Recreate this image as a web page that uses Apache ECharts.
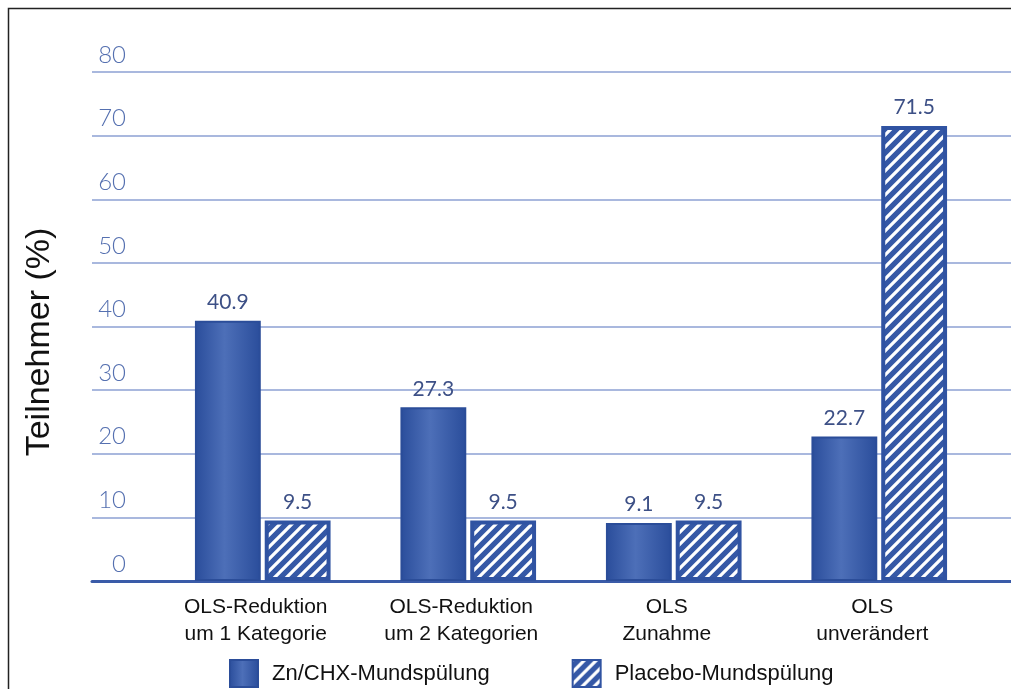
<!DOCTYPE html>
<html>
<head>
<meta charset="utf-8">
<script src="https://cdn.jsdelivr.net/npm/echarts@6/dist/echarts.min.js"></script>
<style>
  html, body { margin: 0; padding: 0; background: #ffffff; }
  #chart { width: 1011px; height: 689px; }
</style>
</head>
<body>
<div id="chart"></div>
<script>
// Categories (two-line x labels)
const categories = [
  'OLS-Reduktion\num 1 Kategorie',
  'OLS-Reduktion\num 2 Kategorien',
  'OLS\nZunahme',
  'OLS\nunverändert'
];
// Share of participants in percent
const znChxValues = [40.9, 27.3, 9.1, 22.7];
const placeboValues = [9.5, 9.5, 9.5, 71.5];
const seriesNames = ['Zn/CHX-Mundspülung', 'Placebo-Mundspülung'];
const yTicks = { min: 0, max: 80, step: 10 };
const yTitle = 'Teilnehmer (%)';

// Diagonal white stripes on blue for the placebo bars
function makeHatch() {
  const s = 12;
  const c = document.createElement('canvas');
  c.width = s; c.height = s;
  const g = c.getContext('2d');
  g.fillStyle = '#3558a6';
  g.fillRect(0, 0, s, s);
  g.strokeStyle = '#ffffff';
  g.lineWidth = 3.2;
  g.beginPath();
  g.moveTo(-2, s + 2); g.lineTo(s + 2, -2);
  g.moveTo(-2, 2); g.lineTo(2, -2);
  g.moveTo(s - 2, s + 2); g.lineTo(s + 2, s - 2);
  g.stroke();
  return c;
}

const solidFill = new echarts.graphic.LinearGradient(0, 0, 1, 0, [
  { offset: 0, color: '#2a4d9b' },
  { offset: 0.45, color: '#4d6fb8' },
  { offset: 1, color: '#2a4d9b' }
]);

const valueLabel = {
  show: true,
  position: 'top',
  distance: 8,
  color: '#3d5086',
  fontFamily: 'Lato',
  fontSize: 21,
  formatter: p => p.value.toFixed(1)
};

const chart = echarts.init(document.getElementById('chart'), null, { renderer: 'canvas' });

chart.setOption({
  backgroundColor: '#ffffff',
  animation: false,
  grid: [
    { left: 92, right: 0, top: 72, bottom: 108 },
    { left: 160, right: 29, top: 72, bottom: 108 }
  ],
  xAxis: [
    {
      gridIndex: 0, type: 'value', min: 0, max: 1,
      axisLine: { show: true, lineStyle: { color: '#3a5ba8', width: 3 } },
      axisTick: { show: false }, axisLabel: { show: false }, splitLine: { show: false }
    },
    {
      gridIndex: 1, type: 'category', data: categories,
      axisLine: { show: false }, axisTick: { show: false },
      axisLabel: {
        margin: 13, color: '#111111', fontFamily: 'Liberation Sans',
        fontSize: 21, lineHeight: 27, padding: [0, 14, 0, 0]
      }
    }
  ],
  yAxis: [
    {
      gridIndex: 0, type: 'value',
      min: yTicks.min, max: yTicks.max, interval: yTicks.step,
      axisLine: { show: false }, axisTick: { show: false },
      axisLabel: {
        margin: -34, align: 'right', verticalAlign: 'bottom',
        padding: [0, 0, 5, 0],
        color: '#5570b0', fontFamily: 'Lato', fontWeight: 300, fontSize: 24
      },
      splitLine: { show: true, lineStyle: { color: '#a9b8de', width: 2 } }
    },
    {
      gridIndex: 1, type: 'value',
      min: yTicks.min, max: yTicks.max, interval: yTicks.step,
      show: false, splitLine: { show: false }
    }
  ],
  legend: {
    left: 224, top: 654,
    icon: 'rect',
    itemWidth: 28, itemHeight: 27, itemGap: 82,
    textStyle: { color: '#111111', fontFamily: 'Liberation Sans', fontSize: 22, padding: [0, 0, 0, 9] },
    data: seriesNames
  },
  graphic: [
    {
      type: 'rect', left: 6, top: 6, silent: true, z: 100,
      shape: { width: 1020, height: 700 },
      style: { fill: 'none', stroke: '#222222', lineWidth: 1.5 }
    },
    {
      type: 'text', x: 40, y: 342, rotation: Math.PI / 2, z: 100,
      style: {
        text: yTitle, fill: '#111111', fontFamily: 'Liberation Sans',
        fontSize: 34, textAlign: 'center', textVerticalAlign: 'middle'
      }
    }
  ],
  series: [
    {
      name: seriesNames[0], type: 'bar', xAxisIndex: 1, yAxisIndex: 1,
      data: znChxValues,
      barGap: '6%', barCategoryGap: '34%',
      itemStyle: { color: solidFill, borderColor: '#2b4d99', borderWidth: 2 },
      label: valueLabel
    },
    {
      name: seriesNames[1], type: 'bar', xAxisIndex: 1, yAxisIndex: 1,
      data: placeboValues,
      itemStyle: {
        color: { image: makeHatch(), repeat: 'repeat' },
        borderColor: '#3053a2', borderWidth: 4
      },
      label: valueLabel
    }
  ]
});
</script>
</body>
</html>
